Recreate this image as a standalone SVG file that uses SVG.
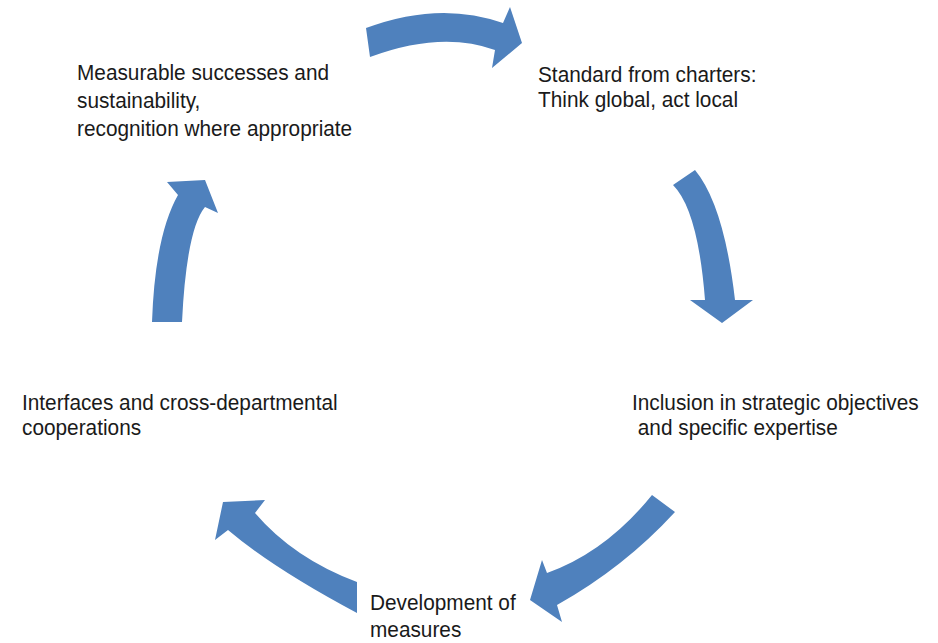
<svg xmlns="http://www.w3.org/2000/svg" width="938" height="643" viewBox="0 0 938 643">
<style>
.arr{fill:#4f81bd;stroke:none}
.t{font-family:"Liberation Sans",Arial,sans-serif;font-size:20.8px;fill:#1a1a1a}
</style>
<rect width="938" height="643" fill="#ffffff"/>
<g id="connectors">
<path class="arr" d="M366,28 Q439.5,0.5 503,23 L510,7 L522,43 L492,68 L495,50 Q441.5,30.5 370,57 Z"/>
<path class="arr" d="M673,185 L695,170 Q724,205 735,300 L753,300 L722,323 L690,300 L705,300 Q698,210 673,185 Z"/>
<path class="arr" d="M652,495 L675,512 Q624,567.5 557,605 L562,622 L530,600 L542,560 L547,573 Q606,552 652,495 Z"/>
<path class="arr" d="M357,582 Q294,558.5 255,513 L265,500 L223,502 L215,540 L228,530 Q273.5,568.5 357,613 Z"/>
<path class="arr" d="M152,322 Q155,235.5 178,195 L167,182 L205,180 L218,213 L205,207 Q186.5,229.5 182,322 Z"/>
</g>
<g id="node-measurable">
<text class="t" transform="translate(77,80) scale(1,1.04)">Measurable successes and</text>
<text class="t" transform="translate(77,108) scale(1,1.04)">sustainability,</text>
<text class="t" transform="translate(77,135.5) scale(1,1.04)">recognition where appropriate</text>
</g>
<g id="node-standard">
<text class="t" transform="translate(538,82) scale(1,1.04)">Standard from charters:</text>
<text class="t" transform="translate(538,107) scale(1,1.04)">Think global, act local</text>
</g>
<g id="node-inclusion">
<text class="t" transform="translate(632,410) scale(1,1.04)">Inclusion in strategic objectives</text>
<text class="t" transform="translate(632,435) scale(1,1.04)" xml:space="preserve"> and specific expertise</text>
</g>
<g id="node-development">
<text class="t" transform="translate(370,610) scale(1,1.04)">Development of</text>
<text class="t" transform="translate(370,637) scale(1,1.04)">measures</text>
</g>
<g id="node-interfaces">
<text class="t" transform="translate(22,410) scale(1,1.04)">Interfaces and cross-departmental</text>
<text class="t" transform="translate(22,435) scale(1,1.04)">cooperations</text>
</g>
</svg>
